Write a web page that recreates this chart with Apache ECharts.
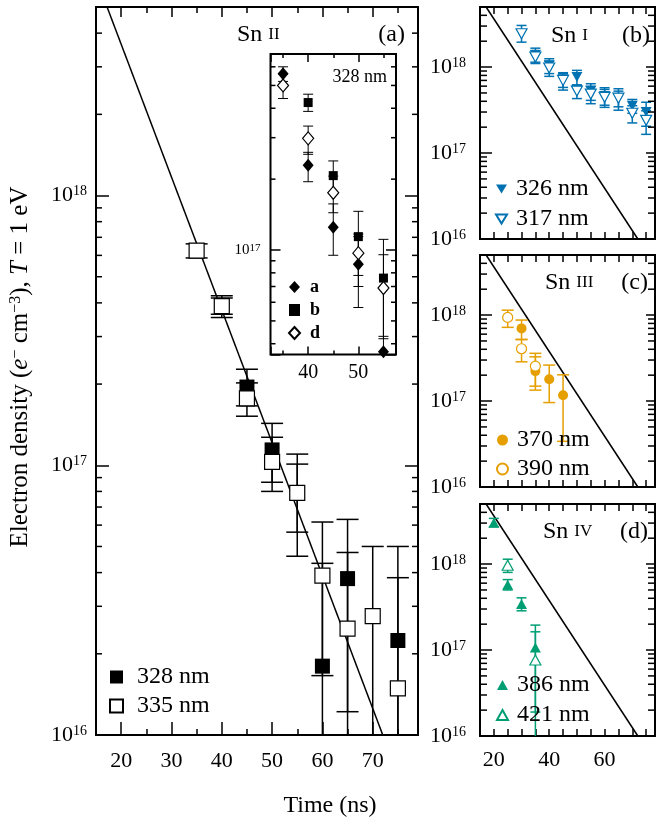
<!DOCTYPE html>
<html>
<head>
<meta charset="utf-8">
<script src="https://cdn.jsdelivr.net/npm/echarts@6/dist/echarts.min.js"></script>
<style>
  html, body { margin: 0; padding: 0; background: #fff; }
  #chart { width: 657px; height: 819px; }
</style>
</head>
<body>
<div id="chart"></div>
<script>
const FONT = 'Liberation Serif';

// fit line (same in every panel), two end points
const fitT = [17.2, 72];
const fitN = [5e18, 1e16];

// (a) Sn II
const t328 = [40, 45, 50, 55, 60, 65, 75];
const n328 = [3.9e17, 1.95e17, 1.14e17, 7.9e16, 1.8e16, 3.8e16, 2.24e16];
const lo328 = [3.63e17, 1.66e17, 8.65e16, 5.65e16, 1e15, 1.22e16, 1e15];
const hi328 = [4.17e17, 2.27e17, 1.43e17, 1.01e17, 4.33e16, 6.3e16, 5.0e16];

const t335 = [35, 40, 45, 50, 55, 60, 65, 70, 75];
const n335 = [6.25e17, 3.89e17, 1.77e17, 1.03e17, 7.9e16, 3.9e16, 2.48e16, 2.76e16, 1.49e16];
const lo335 = [5.87e17, 3.53e17, 1.52e17, 8.0e16, 4.6e16, 1.66e16, 2.1e15, 5e15, 1e15];
const hi335 = [6.62e17, 4.25e17, 2.02e17, 1.27e17, 1.10e17, 6.16e16, 4.75e16, 5.0e16, 3.83e16];

// inset, 328 nm
const tA = [35, 40, 45, 50, 55];
const nA = [5.6e17, 2.29e17, 1.25e17, 8.7e16, 3.7e16];
const loA = [5.2e17, 1.95e17, 9.5e16, 5.7e16, 1e15];
const hiA = [6.0e17, 2.6e17, 1.57e17, 1.17e17, 6.9e16];
const tB = [40, 45, 50, 55];
const nB = [4.23e17, 2.07e17, 1.14e17, 7.6e16];
const loB = [3.88e17, 1.75e17, 7.8e16, 4.2e16];
const hiB = [4.59e17, 2.39e17, 1.46e17, 1.11e17];
const tD = [35, 40, 45, 50, 55];
const nD = [5.0e17, 2.98e17, 1.75e17, 9.7e16, 6.9e16];
const loD = [4.4e17, 2.55e17, 1.44e17, 7.0e16, 4.3e16];
const hiD = [5.6e17, 3.36e17, 2.06e17, 1.14e17, 9.55e16];

// (b) Sn I
const t326 = [35, 40, 45, 50, 55, 60, 65, 70, 75];
const n326 = [1.38e18, 1.05e18, 7.2e17, 7.66e17, 5.3e17, 4.6e17, 4.35e17, 3.55e17, 3.0e17];
const lo326 = [1.1e18, 8.4e17, 5.8e17, 6.16e17, 4.1e17, 3.6e17, 3.45e17, 2.9e17, 2.05e17];
const hi326 = [1.66e18, 1.25e18, 8.6e17, 9.16e17, 6.4e17, 5.75e17, 5.25e17, 4.2e17, 3.9e17];
const t317 = [30, 35, 40, 45, 50, 55, 60, 65, 70, 75];
const n317 = [2.44e18, 1.31e18, 9.75e17, 7.0e17, 5.26e17, 4.85e17, 4.45e17, 4.35e17, 2.9e17, 2.4e17];
const lo317 = [1.95e18, 1.14e18, 7.8e17, 5.4e17, 4.3e17, 3.75e17, 3.4e17, 3.15e17, 2.24e17, 1.65e17];
const hi317 = [3.05e18, 1.56e18, 1.17e18, 8.4e17, 6.2e17, 5.97e17, 5.5e17, 5.6e17, 3.55e17, 3.1e17];

// (c) Sn III
const t370 = [30, 35, 40, 45];
const n370 = [7.0e17, 2.23e17, 1.79e17, 1.17e17];
const lo370 = [5.2e17, 1.34e17, 9.6e16, 3.4e16];
const hi370 = [8.75e17, 3.27e17, 2.62e17, 2.02e17];
const t390 = [25, 30, 35];
const n390 = [9.4e17, 4.06e17, 2.55e17];
const lo390 = [7.2e17, 2.86e17, 1.49e17];
const hi390 = [1.14e18, 5.2e17, 3.59e17];

// (d) Sn IV
const t386 = [20, 25, 30, 35];
const n386 = [3.02e18, 5.75e17, 3.43e17, 1.07e17];
const lo386 = [2.72e18, 5.0e17, 2.86e17, 1.9e16];
const hi386 = [3.4e18, 6.6e17, 4.05e17, 1.95e17];
const t421 = [25, 35];
const n421 = [9.7e17, 7.65e16];
const lo421 = [8.0e17, 1e15];
const hi421 = [1.14e18, 1.63e17];

// minor log ticks (2..9 x 10^n)
const minorMult = [2, 3, 4, 5, 6, 7, 8, 9];
const decades = [16, 17, 18];

const BLUE = '#0072b2', ORANGE = '#e69f00', GREEN = '#009e73';
const DOWN = 'path://M0,0L12,0L6,10Z';

const chart = echarts.init(document.getElementById('chart'));

function minorVals(min, max) {
  const out = [];
  decades.forEach(d => minorMult.forEach(m => {
    const v = m * Math.pow(10, d);
    if (v > min && v < max) out.push(v);
  }));
  return out;
}

function powLabel(size, sup) {
  return {
    fontFamily: FONT, color: '#000', margin: 9, hideOverlap: false,
    formatter: function (v) {
      const e = Math.log10(v), r = Math.round(e);
      if (Math.abs(e - r) > 1e-6) return '';
      return '{b|10}{s|' + r + '}';
    },
    rich: {
      b: { fontFamily: FONT, fontSize: size, color: '#000', lineHeight: size },
      s: { fontFamily: FONT, fontSize: sup, color: '#000', verticalAlign: 'top', lineHeight: sup }
    }
  };
}

const tick = (len) => ({ show: true, inside: true, length: len, lineStyle: { color: '#000', width: 1.5 } });

function xAx(grid, min, max, pos, opts) {
  return Object.assign({
    type: 'value', gridIndex: grid, min: min, max: max, position: pos,
    axisLine: { show: false }, splitLine: { show: false },
    axisLabel: { show: false }
  }, opts);
}

function yAx(grid, min, max, pos, opts) {
  return Object.assign({
    type: 'log', logBase: 10, gridIndex: grid, min: min, max: max, position: pos,
    axisLine: { show: false }, splitLine: { show: false },
    axisLabel: { show: false }
  }, opts);
}

function errSeries(xi, yi, t, lo, hi, color, cap, lw) {
  return {
    type: 'custom', xAxisIndex: xi, yAxisIndex: yi, clip: true, silent: true, z: 2,
    data: t.map((x, i) => [x, lo[i], hi[i]]),
    encode: { x: 0, y: [1, 2] },
    renderItem: function (params, api) {
      const x = api.value(0);
      const p1 = api.coord([x, api.value(1)]);
      const p2 = api.coord([x, api.value(2)]);
      const st = { stroke: color, lineWidth: lw };
      return {
        type: 'group', children: [
          { type: 'line', shape: { x1: p1[0], y1: p1[1], x2: p2[0], y2: p2[1] }, style: st },
          { type: 'line', shape: { x1: p1[0] - cap, y1: p1[1], x2: p1[0] + cap, y2: p1[1] }, style: st },
          { type: 'line', shape: { x1: p2[0] - cap, y1: p2[1], x2: p2[0] + cap, y2: p2[1] }, style: st }
        ]
      };
    }
  };
}

function marks(name, xi, yi, t, n, symbol, size, color, open, rotate) {
  return {
    name: name, type: 'scatter', xAxisIndex: xi, yAxisIndex: yi, silent: true,
    symbol: symbol, symbolSize: size, symbolRotate: rotate || 0, z: open ? 4 : 3,
    data: t.map((x, i) => [x, n[i]]),
    itemStyle: open ? { color: '#fff', borderColor: color, borderWidth: 1.2, opacity: 1 }
                    : { color: color, borderWidth: 0, opacity: 1 }
  };
}

function fitLine(xi, yi) {
  return {
    type: 'line', xAxisIndex: xi, yAxisIndex: yi, silent: true, symbol: 'none', z: 1,
    data: fitT.map((x, i) => [x, fitN[i]]),
    lineStyle: { color: '#000', width: 1.5 }
  };
}

function minorTicks(xi, yi, xmin, vals, len) {
  return {
    type: 'custom', xAxisIndex: xi, yAxisIndex: yi, silent: true, z: 5,
    data: vals.map(v => [xmin, v]),
    renderItem: function (params, api) {
      const cs = params.coordSys;
      const y = api.coord([api.value(0), api.value(1)])[1];
      const st = { stroke: '#000', lineWidth: 1.5 };
      return {
        type: 'group', children: [
          { type: 'line', shape: { x1: cs.x, y1: y, x2: cs.x + len, y2: y }, style: st },
          { type: 'line', shape: { x1: cs.x + cs.width - len, y1: y, x2: cs.x + cs.width, y2: y }, style: st }
        ]
      };
    }
  };
}

function legend(names, left, top, w, h, size, bold, pad, gap) {
  return {
    data: names, orient: 'vertical', left: left, top: top, itemWidth: w, itemHeight: h,
    itemGap: gap, selectedMode: false,
    textStyle: { fontFamily: FONT, fontSize: size, color: '#000', fontWeight: bold ? 'bold' : 'normal', padding: [0, 0, 0, pad] }
  };
}

function label(x, y, txt, align, size) {
  return {
    type: 'text', x: x, y: y, z: 10,
    style: {
      text: txt, align: align, verticalAlign: 'middle', fill: '#000',
      font: size + 'px "' + FONT + '"',
      rich: {
        a: { fontFamily: FONT, fontSize: size, fill: '#000', verticalAlign: 'bottom', lineHeight: size },
        c: { fontFamily: FONT, fontSize: Math.round(size * 0.7), fill: '#000', verticalAlign: 'bottom',
             lineHeight: Math.round(size * 0.82), padding: [0, 0, 4, 0] }
      }
    }
  };
}

const gridStyle = { show: true, borderColor: '#000', borderWidth: 2, backgroundColor: 'transparent', containLabel: false, outerBoundsMode: 'none' };
const SMAX = 78.2;

const option = {
  animation: false,
  backgroundColor: '#fff',
  grid: [
    Object.assign({ left: 96, top: 7, width: 322, height: 728 }, gridStyle),
    Object.assign({ left: 270.5, top: 54, width: 125.5, height: 300.5 }, gridStyle, { backgroundColor: '#fff' }),
    Object.assign({ left: 480, top: 7, width: 175, height: 232 }, gridStyle),
    Object.assign({ left: 480, top: 255, width: 175, height: 232 }, gridStyle),
    Object.assign({ left: 480, top: 504, width: 175, height: 232 }, gridStyle)
  ],
  xAxis: [
    xAx(0, 15, 79, 'bottom', { interval: 5, axisTick: tick(6),
      axisLabel: { show: true, margin: 15, fontFamily: FONT, fontSize: 22, color: '#000', hideOverlap: false,
        formatter: v => (v % 10 === 0 ? String(v) : '') } }),
    xAx(0, 15, 79, 'bottom', { splitNumber: 6, axisTick: tick(13) }),
    xAx(0, 15, 79, 'top', { interval: 5, axisTick: tick(6) }),
    xAx(0, 15, 79, 'top', { splitNumber: 6, axisTick: tick(10) }),
    xAx(1, 32.5, 57.5, 'bottom', { splitNumber: 5, axisTick: tick(4),
      axisLabel: { show: true, margin: 8, fontFamily: FONT, fontSize: 20, color: '#000', hideOverlap: false,
        formatter: v => (v === 40 || v === 50 ? String(v) : '') } }),
    xAx(1, 32.5, 57.5, 'bottom', { splitNumber: 2, axisTick: tick(8) }),
    xAx(1, 32.5, 57.5, 'top', { splitNumber: 5, axisTick: tick(4) }),
    xAx(1, 32.5, 57.5, 'top', { splitNumber: 2, axisTick: tick(8) }),
    xAx(2, 15, SMAX, 'bottom', { interval: 5, axisTick: tick(7) }),
    xAx(2, 15, SMAX, 'top', { interval: 5, axisTick: tick(7) }),
    xAx(3, 15, SMAX, 'bottom', { interval: 5, axisTick: tick(7) }),
    xAx(3, 15, SMAX, 'top', { interval: 5, axisTick: tick(7) }),
    xAx(4, 15, SMAX, 'bottom', { interval: 5, axisTick: tick(7),
      axisLabel: { show: true, margin: 13, fontFamily: FONT, fontSize: 22, color: '#000', hideOverlap: false,
        formatter: v => (v % 20 === 0 && v <= 60 ? String(v) : '') } }),
    xAx(4, 15, SMAX, 'top', { interval: 5, axisTick: tick(7) })
  ],
  yAxis: [
    yAx(0, 1e16, 5e18, 'left', { axisTick: tick(13), axisLabel: Object.assign(powLabel(22, 14), { show: true, margin: 9 }) }),
    yAx(0, 1e16, 5e18, 'right', { axisTick: tick(13) }),
    yAx(1, 3.6e16, 6.8e17, 'left', { axisTick: tick(10), axisLabel: Object.assign(powLabel(15, 11), { show: true, margin: 10 }) }),
    yAx(1, 3.6e16, 6.8e17, 'right', { axisTick: tick(10) }),
    yAx(2, 1e16, 5e18, 'left', { axisTick: tick(12), axisLabel: Object.assign(powLabel(22, 14), { show: true, margin: 14 }) }),
    yAx(2, 1e16, 5e18, 'right', { axisTick: tick(9) }),
    yAx(3, 1e16, 5e18, 'left', { axisTick: tick(12), axisLabel: Object.assign(powLabel(22, 14), { show: true, margin: 14 }) }),
    yAx(3, 1e16, 5e18, 'right', { axisTick: tick(9) }),
    yAx(4, 1e16, 5e18, 'left', { axisTick: tick(12), axisLabel: Object.assign(powLabel(22, 14), { show: true, margin: 14 }) }),
    yAx(4, 1e16, 5e18, 'right', { axisTick: tick(9) })
  ],
  legend: [
    legend(['328 nm', '335 nm'], 104, 660, 13, 13, 24, false, 9, 5),
    legend(['a', 'b', 'd'], 283, 273, 11, 12, 18, true, 5, 5),
    legend([{ name: '326 nm', icon: DOWN }, { name: '317 nm', icon: DOWN }], 490, 172, 11, 10, 24, false, 4, 6),
    legend(['370 nm', '390 nm'], 491, 423, 11, 11, 24, false, 4, 5),
    legend(['386 nm', '421 nm'], 491, 668, 11, 10, 24, false, 4, 6)
  ],
  series: [
    // (a)
    fitLine(0, 0),
    minorTicks(0, 0, 15, minorVals(1e16, 5e18), 6),
    errSeries(0, 0, t328, lo328, hi328, '#000', 11, 1.5),
    errSeries(0, 0, t335, lo335, hi335, '#000', 11, 1.5),
    marks('328 nm', 0, 0, t328, n328, 'rect', 15, '#000', false),
    marks('335 nm', 0, 0, t335, n335, 'rect', 15, '#000', true),
    // inset
    minorTicks(4, 2, 32.5, minorVals(3.6e16, 6.8e17), 5),
    errSeries(4, 2, tA, loA, hiA, '#000', 5, 1),
    errSeries(4, 2, tB, loB, hiB, '#000', 5, 1),
    errSeries(4, 2, tD, loD, hiD, '#000', 5, 1),
    marks('a', 4, 2, tA, nA, 'diamond', [11, 13], '#000', false),
    marks('b', 4, 2, tB, nB, 'rect', 9, '#000', false),
    marks('d', 4, 2, tD, nD, 'diamond', [11, 13], '#000', true),
    // (b)
    fitLine(8, 4),
    minorTicks(8, 4, 15, minorVals(1e16, 5e18), 7),
    errSeries(8, 4, t326, lo326, hi326, BLUE, 5, 1.5),
    errSeries(8, 4, t317, lo317, hi317, BLUE, 5, 1.5),
    marks('326 nm', 8, 4, t326, n326, 'triangle', [11, 10], BLUE, false, 180),
    marks('317 nm', 8, 4, t317, n317, 'triangle', [11, 10], BLUE, true, 180),
    // (c)
    fitLine(10, 6),
    minorTicks(10, 6, 15, minorVals(1e16, 5e18), 7),
    errSeries(10, 6, t370, lo370, hi370, ORANGE, 6, 1.5),
    errSeries(10, 6, t390, lo390, hi390, ORANGE, 6, 1.5),
    marks('370 nm', 10, 6, t370, n370, 'circle', 10, ORANGE, false),
    marks('390 nm', 10, 6, t390, n390, 'circle', 10, ORANGE, true),
    // (d)
    fitLine(12, 8),
    minorTicks(12, 8, 15, minorVals(1e16, 5e18), 7),
    errSeries(12, 8, t386, lo386, hi386, GREEN, 5, 1.5),
    errSeries(12, 8, t421, lo421, hi421, GREEN, 5, 1.5),
    marks('386 nm', 12, 8, t386, n386, 'triangle', [11, 10], GREEN, false),
    marks('421 nm', 12, 8, t421, n421, 'triangle', [11, 10], GREEN, true)
  ],
  graphic: [
    {
      type: 'text', x: 20, y: 367, rotation: Math.PI / 2, z: 10,
      style: {
        text: '{r|Electron density (}{i|e}{s|\u2212}{r| cm}{s|\u22123}{r|), }{i|T}{r| = 1 eV}',
        align: 'center', verticalAlign: 'middle',
        rich: {
          r: { fontFamily: FONT, fontSize: 25, fill: '#000', lineHeight: 25 },
          i: { fontFamily: FONT, fontSize: 25, fill: '#000', fontStyle: 'italic', lineHeight: 25 },
          s: { fontFamily: FONT, fontSize: 16, fill: '#000', verticalAlign: 'top', lineHeight: 16 }
        }
      }
    },
    {
      type: 'text', x: 330, y: 806, z: 10,
      style: { text: 'Time (ns)', align: 'center', verticalAlign: 'middle', fill: '#000', font: '24px "' + FONT + '"' }
    },
    label(237, 35, '{a|Sn }{c|II}', 'left', 24),
    label(405, 35, '{a|(a)}', 'right', 24),
    label(387, 77, '{a|328 nm}', 'right', 18),
    label(551, 36, '{a|Sn }{c|I}', 'left', 24),
    label(650, 36, '{a|(b)}', 'right', 24),
    label(545, 283, '{a|Sn }{c|III}', 'left', 24),
    label(648, 283, '{a|(c)}', 'right', 24),
    label(543, 532, '{a|Sn }{c|IV}', 'left', 24),
    label(648, 532, '{a|(d)}', 'right', 24)
  ]
};

chart.setOption(option);
</script>
</body>
</html>
